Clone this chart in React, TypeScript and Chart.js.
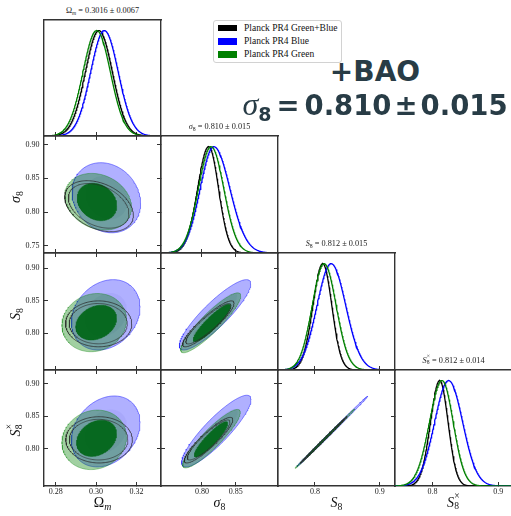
import React, { useEffect, useRef } from "react";
import { Chart, registerables } from "chart.js";
Chart.register(...registerables);

// ---------------- axes (parameters: Ωm, σ8, S8, S8×) ----------------
const axisMin = [0.2742, 0.7395, 0.743, 0.7428];
const axisMax = [0.3322, 0.9125, 0.9235, 0.921];
const xTickValues = [[0.28, 0.3, 0.32], [0.8, 0.85], [0.8, 0.9], [0.8, 0.9]];
const xTickLabels = [["0.28", "0.30", "0.32"], ["0.80", "0.85"], ["0.8", "0.9"], ["0.8", "0.9"]];
const yTickValues = [[0.5], [0.75, 0.8, 0.85, 0.9], [0.8, 0.85, 0.9], [0.8, 0.85, 0.9]];
const yTickLabels = [[""], ["0.75", "0.80", "0.85", "0.90"], ["0.80", "0.85", "0.90"], ["0.80", "0.85", "0.90"]];

const paramSymbol = ["Ω", "σ", "S", "S"];
const paramSub = ["m", "8", "8", "8"];
const paramSup = ["", "", "", "×"];
const titleMeans = ["0.3016", "0.810", "0.812", "0.812"];
const titleErrors = ["0.0067", "0.015", "0.015", "0.014"];

// ---------------- series ----------------
const seriesNames = ["Planck PR4 Green+Blue", "Planck PR4 Blue", "Planck PR4 Green"];
const seriesColors = ["#000000", "#0000ff", "#008000"];

// 1D marginals: peak position, left width, right width  [Ωm, σ8, S8, S8×]
const gbPeak = [0.3014, 0.81, 0.812, 0.8108];
const gbSigL = [0.0067, 0.0165, 0.0152, 0.014];
const gbSigR = [0.0067, 0.0146, 0.014, 0.0128];
const bluePeak = [0.3041, 0.8175, 0.8249, 0.8244];
const blueSigL = [0.0068, 0.0201, 0.0218, 0.0213];
const blueSigR = [0.0069, 0.0238, 0.0226, 0.0214];
const greenPeak = [0.3003, 0.8135, 0.814, 0.8144];
const greenSigL = [0.0068, 0.0188, 0.0183, 0.0192];
const greenSigR = [0.0068, 0.0188, 0.0187, 0.017];

// 2D panels [row, col]
const panels2D = [[1, 0], [2, 0], [3, 0], [2, 1], [3, 1], [3, 2]];
// contours: [centre x, centre y, half-extent x, half-extent y, correlation]
const blue95 = [
  [0.3051, 0.8212, 0.017, 0.0518, -0.16],
  [0.3048, 0.8281, 0.017, 0.0543, 0.22],
  [0.3048, 0.8266, 0.017, 0.0545, 0.25],
  [0.8194, 0.8281, 0.0528, 0.0543, 0.88],
  [0.8213, 0.8271, 0.0513, 0.0551, 0.88],
  [0.8268, 0.8266, 0.0545, 0.054, 0.9988],
];
const blue68 = [
  [0.3051, 0.8212, 0.0105, 0.0321, -0.16],
  [0.3048, 0.8281, 0.0105, 0.0337, 0.22],
  [0.3048, 0.8266, 0.0105, 0.0338, 0.25],
  [0.8194, 0.8281, 0.0327, 0.0337, 0.88],
  [0.8213, 0.8271, 0.0318, 0.0342, 0.88],
  [0.8268, 0.8266, 0.0338, 0.0335, 0.9988],
];
const green95 = [
  [0.3011, 0.8153, 0.0165, 0.0419, -0.2],
  [0.2991, 0.8161, 0.016, 0.0449, 0.1],
  [0.2991, 0.8137, 0.016, 0.0457, 0.1],
  [0.813, 0.8158, 0.0444, 0.0462, 0.9],
  [0.8142, 0.8155, 0.0426, 0.0449, 0.9],
  [0.8155, 0.8155, 0.046, 0.0457, 0.9988],
];
const green68 = [
  [0.3005, 0.8149, 0.0098, 0.0277, -0.2],
  [0.3001, 0.8161, 0.0101, 0.0269, 0.25],
  [0.3003, 0.8161, 0.0099, 0.0279, 0.25],
  [0.8149, 0.8156, 0.0277, 0.0289, 0.9],
  [0.8135, 0.8145, 0.0247, 0.0271, 0.9],
  [0.8155, 0.8155, 0.028, 0.028, 0.9988],
];
const gbOuter = [
  [0.3015, 0.8087, 0.017, 0.0377, -0.35],
  [0.3013, 0.8142, 0.0164, 0.0354, 0.0],
  [0.3015, 0.8137, 0.0165, 0.0355, 0.0],
  [0.8095, 0.8142, 0.038, 0.0354, 0.9],
  [0.8098, 0.8132, 0.0358, 0.035, 0.9],
  [0.8135, 0.8135, 0.036, 0.036, 0.9988],
];
const gbInner = [
  [0.3013, 0.8092, 0.015, 0.033, -0.35],
  [0.3011, 0.8145, 0.0144, 0.0311, 0.0],
  [0.3013, 0.814, 0.0145, 0.0312, 0.0],
  [0.8097, 0.8143, 0.0334, 0.0311, 0.9],
  [0.81, 0.8135, 0.0315, 0.0308, 0.9],
  [0.8135, 0.8135, 0.0317, 0.0317, 0.9988],
];

// ---------------- layout ----------------
const colLeft = [44, 161, 278, 395];
const rowTop = [20, 136, 253, 370];
const cellW = 117;
const rowH = [116, 117, 117, 116];
const FRAME = "#333333";
const SERIF = "'Liberation Serif', 'Times New Roman', serif";
const TEXT = "#283c46";

function curve(peak: number, sl: number, sr: number, lo: number, hi: number) {
  const pts: { x: number; y: number }[] = [];
  const n = 240;
  for (let i = 0; i <= n; i++) {
    const x = lo + ((hi - lo) * i) / n;
    const s = x < peak ? sl : sr;
    const z = (x - peak) / s;
    pts.push({ x, y: Math.exp(-0.5 * z * z) });
  }
  return pts;
}

function ellipse(e: number[]) {
  const [cx, cy, sx, sy, rho] = e;
  const q = Math.sqrt(Math.max(0, 1 - rho * rho));
  const pts: { x: number; y: number }[] = [];
  const n = 160;
  for (let i = 0; i <= n; i++) {
    const t = (2 * Math.PI * i) / n;
    pts.push({ x: cx + sx * Math.cos(t), y: cy + sy * (rho * Math.cos(t) + q * Math.sin(t)) });
  }
  return pts;
}

function fixedTicks(values: number[]) {
  return (scale: any) => {
    scale.ticks = values.map((v) => ({ value: v }));
  };
}
function fitSize(prop: "width" | "height", size: number) {
  return (scale: any) => {
    scale[prop] = size;
    scale.paddingLeft = 0;
    scale.paddingRight = 0;
    scale.paddingTop = 0;
    scale.paddingBottom = 0;
  };
}

function buildConfig(r: number, c: number, padL: number, padR: number, padT: number, padB: number): any {
  const diag = r === c;
  const tickFont = { family: SERIF, size: 8 };
  const datasets: any[] = [];
  if (diag) {
    const peaks = [gbPeak, bluePeak, greenPeak];
    const sl = [gbSigL, blueSigL, greenSigL];
    const sr = [gbSigR, blueSigR, greenSigR];
    for (let s = 0; s < 3; s++) {
      datasets.push({
        data: curve(peaks[s][c], sl[s][c], sr[s][c], axisMin[c], axisMax[c]),
        borderColor: seriesColors[s],
        borderWidth: 1.3,
        showLine: true,
        pointRadius: 0,
        fill: false,
        xAxisID: "x",
        yAxisID: "y",
      });
    }
  } else {
    const k = panels2D.findIndex((p) => p[0] === r && p[1] === c);
    const filled = (e: number[], bg: string, bc: string, bw: number) => ({
      data: ellipse(e),
      backgroundColor: bg,
      borderColor: bc,
      borderWidth: bw,
      showLine: true,
      pointRadius: 0,
      fill: "shape",
      xAxisID: "x",
      yAxisID: "y",
    });
    const line = (e: number[], bc: string) => ({
      data: ellipse(e),
      borderColor: bc,
      borderWidth: 1,
      showLine: true,
      pointRadius: 0,
      fill: false,
      xAxisID: "x",
      yAxisID: "y",
    });
    datasets.push(filled(blue95[k], "rgba(0,0,255,0.31)", "rgba(0,0,255,0.55)", 0.8));
    datasets.push(filled(blue68[k], "rgba(0,0,150,0.05)", "rgba(0,0,255,0)", 0));
    datasets.push(filled(green95[k], "rgba(0,128,0,0.37)", "rgba(0,128,0,0.45)", 0.8));
    datasets.push(filled(green68[k], "rgba(0,102,24,0.93)", "rgba(0,102,24,0.93)", 0.5));
    datasets.push(line(gbOuter[k], "rgba(40,40,40,0.75)"));
    datasets.push(line(gbInner[k], "rgba(40,40,40,0.6)"));
  }
  datasets.reverse(); // first dataset is drawn on top in Chart.js

  const grid = (ticksOn: boolean) => ({
    drawOnChartArea: false,
    drawTicks: ticksOn,
    tickLength: -4,
    color: FRAME,
    lineWidth: 1,
  });
  const border = { display: true, color: FRAME, width: 1.4 };
  const yMin = diag ? 0 : axisMin[r];
  const yMax = diag ? 1.1 : axisMax[r];
  const yVals = diag ? [0.5] : yTickValues[r];

  return {
    type: "scatter",
    data: { datasets },
    options: {
      animation: false,
      responsive: false,
      maintainAspectRatio: false,
      devicePixelRatio: 1,
      events: [],
      layout: { padding: 0 },
      plugins: { legend: { display: false }, tooltip: { enabled: false }, title: { display: false } },
      scales: {
        x: {
          type: "linear",
          position: "bottom",
          min: axisMin[c],
          max: axisMax[c],
          afterBuildTicks: fixedTicks(xTickValues[c]),
          afterFit: fitSize("height", padB),
          ticks: {
            display: r === 3,
            font: tickFont,
            color: "#222",
            padding: 5,
            autoSkip: false,
            maxRotation: 0,
            callback: (_v: any, i: number) => xTickLabels[c][i],
          },
          grid: grid(true),
          border,
        },
        xTop: {
          type: "linear",
          position: "top",
          min: axisMin[c],
          max: axisMax[c],
          afterBuildTicks: fixedTicks(xTickValues[c]),
          afterFit: fitSize("height", padT),
          ticks: { display: false },
          grid: grid(!diag),
          border,
        },
        y: {
          type: "linear",
          position: "left",
          min: yMin,
          max: yMax,
          afterBuildTicks: fixedTicks(yVals),
          afterFit: fitSize("width", padL),
          ticks: {
            display: c === 0 && !diag,
            font: tickFont,
            color: "#222",
            padding: 8.5,
            autoSkip: false,
            callback: (_v: any, i: number) => (diag ? "" : yTickLabels[r][i]),
          },
          grid: grid(!diag),
          border,
        },
        yRight: {
          type: "linear",
          position: "right",
          min: yMin,
          max: yMax,
          afterBuildTicks: fixedTicks(yVals),
          afterFit: fitSize("width", padR),
          ticks: { display: false },
          grid: grid(!diag),
          border,
        },
      },
    },
  };
}

function Panel({ r, c }: { r: number; c: number }) {
  const ref = useRef<HTMLCanvasElement>(null);
  const diag = r === c;
  const padL = c === 0 && !diag ? 44 : 3;
  const padR = 3;
  const padT = 3;
  const padB = r === 3 ? 20 : 3;
  const w = cellW + padL + padR;
  const h = rowH[r] + padT + padB;
  useEffect(() => {
    const chart = new Chart(ref.current as HTMLCanvasElement, buildConfig(r, c, padL, padR, padT, padB));
    return () => chart.destroy();
  }, [r, c]);
  return (
    <canvas
      ref={ref}
      width={w}
      height={h}
      style={{ position: "absolute", left: colLeft[c] - padL, top: rowTop[r] - padT, width: w, height: h }}
    />
  );
}

function ParamLabel({ i }: { i: number }) {
  const italicSym = i !== 0;
  return (
    <span style={{ whiteSpace: "nowrap" }}>
      <span style={{ fontStyle: italicSym ? "italic" : "normal" }}>{paramSymbol[i]}</span>
      {paramSup[i] ? (
        <span
          style={{
            position: "relative",
            display: "inline-block",
            fontSize: "0.68em",
            width: "0.62em",
            height: "1em",
            verticalAlign: "baseline",
          }}
        >
          <span style={{ position: "absolute", left: "0.02em", top: "-0.6em", lineHeight: 1 }}>{paramSup[i]}</span>
          <span style={{ position: "absolute", left: "0.02em", top: "0.5em", lineHeight: 1 }}>{paramSub[i]}</span>
        </span>
      ) : (
        <span
          style={{
            fontSize: "0.7em",
            verticalAlign: "-0.3em",
            lineHeight: 0,
            fontStyle: i === 0 ? "italic" : "normal",
          }}
        >
          {paramSub[i]}
        </span>
      )}
    </span>
  );
}

export default function App() {
  const cells: JSX.Element[] = [];
  for (let r = 0; r < 4; r++) for (let c = 0; c <= r; c++) cells.push(<Panel key={`${r}-${c}`} r={r} c={c} />);

  return (
    <div
      style={{
        position: "fixed",
        left: 0,
        top: 0,
        width: 511,
        height: 516,
        overflow: "hidden",
        background: "#ffffff",
        fontFamily: SERIF,
      }}
    >
      {cells}

      {/* titles above the diagonal panels */}
      {[0, 1, 2, 3].map((i) => (
        <div
          key={`t${i}`}
          style={{
            position: "absolute",
            left: colLeft[i] - 20,
            width: cellW + 40,
            top: rowTop[i] - 15,
            lineHeight: "12px",
            fontSize: 8.25,
            textAlign: "center",
            color: "#222",
            whiteSpace: "nowrap",
          }}
        >
          <ParamLabel i={i} /> = {titleMeans[i]} ± {titleErrors[i]}
        </div>
      ))}

      {/* bottom axis labels */}
      {[0, 1, 2, 3].map((i) => (
        <div
          key={`bx${i}`}
          style={{
            position: "absolute",
            left: colLeft[i],
            width: cellW,
            top: 495,
            lineHeight: "16px",
            fontSize: 14,
            textAlign: "center",
            color: "#111",
          }}
        >
          <ParamLabel i={i} />
        </div>
      ))}

      {/* left axis labels */}
      {[1, 2, 3].map((i) => (
        <div
          key={`ly${i}`}
          style={{
            position: "absolute",
            left: 16 - 25,
            width: 50,
            top: rowTop[i] + rowH[i] / 2 + 2 - 8,
            height: 16,
            lineHeight: "16px",
            fontSize: 14,
            textAlign: "center",
            color: "#111",
            transform: "rotate(-90deg)",
          }}
        >
          <ParamLabel i={i} />
        </div>
      ))}

      {/* legend */}
      <div
        style={{
          position: "absolute",
          left: 213,
          top: 19.5,
          width: 128.5,
          height: 43,
          border: "1px solid #d2d2d2",
          borderRadius: 3,
          background: "rgba(255,255,255,0.85)",
          boxSizing: "border-box",
        }}
      >
        {seriesNames.map((name, s) => (
          <div key={name} style={{ position: "absolute", left: 0, top: 1 + s * 13.3, height: 13, width: 128 }}>
            <div
              style={{
                position: "absolute",
                left: 3.5,
                top: 3.2,
                width: 19.3,
                height: 6.7,
                background: seriesColors[s],
              }}
            />
            <div
              style={{
                position: "absolute",
                left: 30,
                top: 0,
                lineHeight: "13px",
                fontSize: 9.5,
                color: "#111",
                whiteSpace: "nowrap",
              }}
            >
              {name}
            </div>
          </div>
        ))}
      </div>

      {/* annotation */}
      <div
        style={{
          position: "absolute",
          left: 375,
          top: 58,
          transform: "translateX(-50%)",
          fontFamily: "'DejaVu Sans', sans-serif",
          fontWeight: "bold",
          fontSize: 28,
          lineHeight: "28px",
          color: TEXT,
          whiteSpace: "nowrap",
        }}
      >
        +BAO
      </div>
      <div
        style={{
          position: "absolute",
          left: 375,
          top: 90,
          transform: "translateX(-50%)",
          fontFamily: "'DejaVu Sans', sans-serif",
          fontWeight: "bold",
          fontSize: 27.5,
          lineHeight: "28px",
          color: TEXT,
          whiteSpace: "nowrap",
        }}
      >
        <span style={{ fontFamily: SERIF, fontStyle: "italic", fontWeight: "normal", fontSize: 32 }}>σ</span>
        <span style={{ fontSize: 19, verticalAlign: "-0.3em", lineHeight: 0 }}>8</span>
        <span style={{ margin: "0 5px" }}>=</span>
        {titleMeans[1]}
        <span style={{ margin: "0 3px" }}>±</span>
        {titleErrors[1]}
      </div>
    </div>
  );
}
